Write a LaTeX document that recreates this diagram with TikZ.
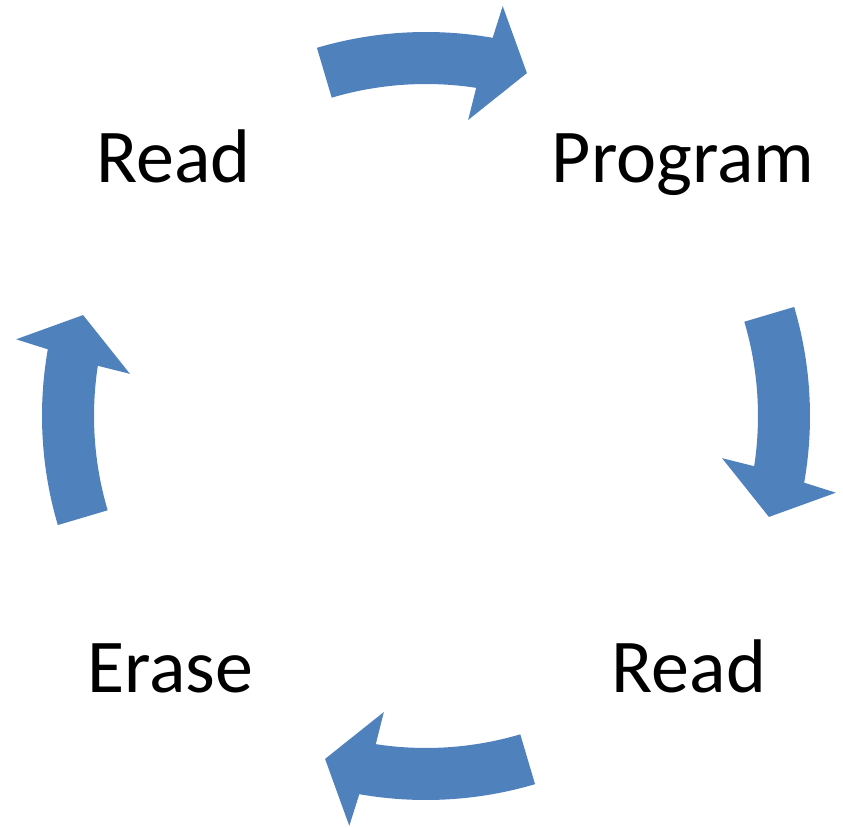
\documentclass[tikz,border=0pt]{standalone}
\usepackage{fontspec}
\setmainfont{Carlito}
\usepackage{tikz}
\definecolor{arrowblue}{RGB}{79,129,189}
\tikzstyle{label}=[anchor=base, inner sep=0pt, font=\fontsize{76}{90}\selectfont]
\tikzstyle{turn}=[fill=arrowblue, draw=none]
\usetikzlibrary{positioning}

\begin{document}
\begin{tikzpicture}[x=1pt,y=1pt]
    \useasboundingbox (-426,-411) rectangle (417,416);
    \node (read1) [label] at (-252.5,233.5) {Read};
    \node (program) [label] at (257,233.5) {Program};
    \node (read2) [label] at (263,-276) {Read};
    \node (erase) [label] at (-255.5,-276) {Erase};
    % the four bent arrows, clockwise
    \foreach \rot in {0,-90,-180,-270}{
    	\begin{scope}[rotate=\rot]
    		\fill[turn] (106.5:384) arc[start angle=106.5, end angle=80, radius=384]
    			-- (79.4:417) -- (73.6:357.5) -- (81.9:299) -- (81.3:332)
    			arc[start angle=81.3, end angle=106.5, radius=332] -- cycle;
    	\end{scope}
    }
\end{tikzpicture}
\end{document}
